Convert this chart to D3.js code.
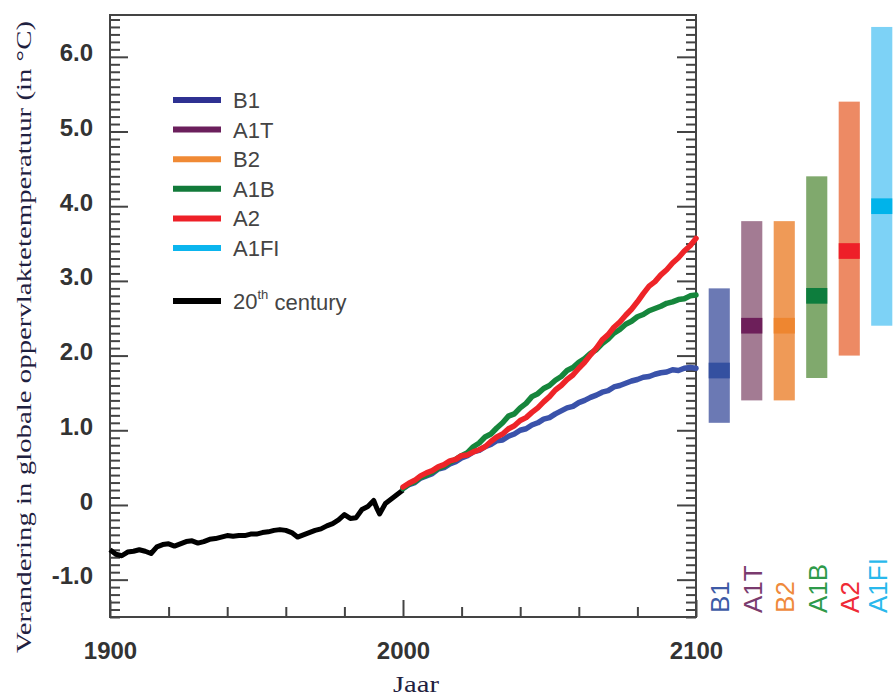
<!DOCTYPE html>
<html><head><meta charset="utf-8">
<script src="https://cdn.jsdelivr.net/npm/d3@7"></script>
<style>html,body{margin:0;padding:0;background:#fff;} svg{display:block;}</style>
</head><body>
<svg id="chart" width="893" height="700"></svg>
<script>
// ---------- DATA ----------
const histYears = [1900,1902,1904,1906,1908,1910,1912,1914,1916,1918,1920,1922,1924,1926,1928,1930,1932,1934,1936,1938,1940,1942,1944,1946,1948,1950,1952,1954,1956,1958,1960,1962,1964,1966,1968,1970,1972,1974,1976,1978,1980,1982,1984,1986,1988,1990,1991,1992,1994,1996,1998,2000];
const histValues = [-0.60,-0.66,-0.68,-0.63,-0.62,-0.60,-0.62,-0.65,-0.56,-0.53,-0.52,-0.55,-0.52,-0.49,-0.48,-0.51,-0.49,-0.46,-0.45,-0.43,-0.41,-0.42,-0.41,-0.41,-0.39,-0.39,-0.37,-0.36,-0.34,-0.33,-0.34,-0.37,-0.43,-0.40,-0.37,-0.34,-0.32,-0.28,-0.25,-0.20,-0.13,-0.18,-0.17,-0.06,-0.02,0.06,-0.04,-0.12,0.02,0.08,0.14,0.20];

const scenYears = [2000,2002,2004,2006,2008,2010,2012,2014,2016,2018,2020,2022,2024,2026,2028,2030,2032,2034,2036,2038,2040,2042,2044,2046,2048,2050,2052,2054,2056,2058,2060,2062,2064,2066,2068,2070,2072,2074,2076,2078,2080,2082,2084,2086,2088,2090,2092,2094,2096,2098,2100];
const b1Values  = [0.22,0.27,0.30,0.36,0.39,0.42,0.48,0.50,0.55,0.58,0.63,0.66,0.71,0.73,0.78,0.81,0.86,0.87,0.92,0.95,1.00,1.02,1.07,1.10,1.15,1.17,1.22,1.26,1.30,1.32,1.37,1.40,1.44,1.47,1.51,1.53,1.58,1.60,1.63,1.66,1.68,1.71,1.72,1.75,1.77,1.78,1.81,1.80,1.83,1.84,1.83];
const a1bValues = [0.22,0.28,0.31,0.37,0.40,0.44,0.49,0.52,0.57,0.61,0.66,0.70,0.78,0.83,0.91,0.95,1.03,1.10,1.19,1.22,1.30,1.36,1.45,1.49,1.56,1.60,1.67,1.72,1.80,1.84,1.91,1.96,2.03,2.08,2.16,2.22,2.30,2.35,2.42,2.46,2.52,2.55,2.60,2.63,2.66,2.70,2.72,2.75,2.76,2.80,2.81];
const a2Values  = [0.24,0.29,0.33,0.39,0.43,0.46,0.51,0.54,0.59,0.61,0.66,0.67,0.71,0.74,0.78,0.85,0.91,0.95,1.02,1.06,1.13,1.17,1.24,1.30,1.38,1.45,1.54,1.60,1.68,1.74,1.83,1.91,2.01,2.10,2.21,2.28,2.38,2.45,2.54,2.62,2.72,2.83,2.93,2.99,3.08,3.15,3.24,3.31,3.40,3.47,3.57];

const scenarioNames = ["B1","A1T","B2","A1B","A2","A1FI"];
const bestEstimate  = [1.8,2.4,2.4,2.8,3.4,4.0];
const rangeLow      = [1.1,1.4,1.4,1.7,2.0,2.4];
const rangeHigh     = [2.9,3.8,3.8,4.4,5.4,6.4];

const xMajorTicks = [1900,2000,2100];
const xMinorTicks = [1920,1940,1960,1980,2020,2040,2060,2080];
const yMajorTicks = [-1,0,1,2,3,4,5,6];
const yTickLabels = ["-1.0","0","1.0","2.0","3.0","4.0","5.0","6.0"];
const legendLabels = ["B1","A1T","B2","A1B","A2","A1FI","20th century"];

// ---------- STYLE ----------
const legendColors = ["#2e3192","#6b1f5c","#f08a35","#127a3a","#ee2028","#0bb5ee","#000000"];
const barLight = ["#6b79b4","#a37b93","#ef9a57","#80a96d","#ed8a64","#7dd2f6"];
const barDark  = ["#3450a0","#6d1f5a","#ee8630","#0d7d3d","#ee1f28","#00b3ea"];
const labelColors = ["#3d5aa6","#7a3b6e","#ef8a3c","#2e9a4a","#ef2a36","#29b8ec"];

const svg = d3.select("#chart");
const L = 110, R = 696, T = 15, B = 617;
const x = d3.scaleLinear().domain([1900,2100]).range([L,R]);
const y = d3.scaleLinear().domain([-1.5,6.56]).range([B,T]);
const axisColor = "#444";

// frame
svg.append("rect").attr("x",L).attr("y",T).attr("width",R-L).attr("height",B-T)
  .attr("fill","none").attr("stroke",axisColor).attr("stroke-width",2);

const yMinor = d3.range(-15,66).map(d => d/10).filter(d => Math.abs(d - Math.round(d)) > 1e-6);

function styleAxis(g){
  g.select(".domain").remove();
  g.selectAll(".tick line").attr("stroke",axisColor).attr("stroke-width",2);
}
// left axis
svg.append("g").attr("transform",`translate(${L},0)`)
  .call(d3.axisLeft(y).tickValues(yMinor).tickSize(-10).tickFormat(""))
  .call(styleAxis);
svg.append("g").attr("transform",`translate(${L},0)`)
  .call(d3.axisLeft(y).tickValues(yMajorTicks).tickSizeInner(-18).tickSizeOuter(0).tickPadding(17)
        .tickFormat((d,i) => yTickLabels[i]))
  .call(styleAxis)
  .call(g => g.selectAll("text").attr("font-family","Liberation Sans, Arial, sans-serif")
        .attr("font-size",24).attr("font-weight","bold").attr("fill","#333").attr("dy","0.17em"));
// right axis
svg.append("g").attr("transform",`translate(${R},0)`)
  .call(d3.axisRight(y).tickValues(yMinor).tickSize(-10).tickFormat(""))
  .call(styleAxis);
svg.append("g").attr("transform",`translate(${R},0)`)
  .call(d3.axisRight(y).tickValues(yMajorTicks).tickSize(-19).tickFormat(""))
  .call(styleAxis);
// bottom axis
svg.append("g").attr("transform",`translate(0,${B})`)
  .call(d3.axisBottom(x).tickValues(xMinorTicks).tickSize(-10).tickFormat(""))
  .call(styleAxis);
svg.append("g").attr("transform",`translate(0,${B})`)
  .call(d3.axisBottom(x).tickValues(xMajorTicks).tickSizeInner(-17).tickSizeOuter(0).tickPadding(25)
        .tickFormat(d3.format("d")))
  .call(styleAxis)
  .call(g => g.selectAll("text").attr("font-family","Liberation Sans, Arial, sans-serif")
        .attr("font-size",24).attr("font-weight","bold").attr("fill","#333"));

// lines
const line = d3.line().x(d => x(d[0])).y(d => y(d[1]));
const hist = histYears.map((yr,i) => [yr, histValues[i]]);
svg.append("path").datum(hist).attr("d",line).attr("fill","none")
  .attr("stroke","#000").attr("stroke-width",5).attr("stroke-linejoin","round");
const scen = [
  {vals:b1Values, color:"#3a52aa"},
  {vals:a1bValues, color:"#16863c"},
  {vals:a2Values, color:"#ee2428"}
];
scen.forEach(s => {
  svg.append("path").datum(scenYears.map((yr,i)=>[yr,s.vals[i]])).attr("d",line)
    .attr("fill","none").attr("stroke",s.color).attr("stroke-width",5.5)
    .attr("stroke-linejoin","round").attr("stroke-linecap","round");
});

// legend
const lg = svg.append("g");
legendLabels.forEach((lab,i) => {
  const ly = i < 6 ? 100 + i*29.6 : 301;
  lg.append("line").attr("x1",173).attr("x2",221).attr("y1",ly).attr("y2",ly)
    .attr("stroke",legendColors[i]).attr("stroke-width",6);
  const t = lg.append("text").attr("x",233).attr("y",ly).attr("dy","0.36em")
    .attr("font-family","Liberation Sans, Arial, sans-serif").attr("font-size",22).attr("fill","#444");
  if (lab === "20th century") {
    t.append("tspan").text("20");
    t.append("tspan").text("th").attr("font-size",13).attr("dy","-0.75em");
    t.append("tspan").text(" century").attr("dy","0.5em");
  } else t.text(lab);
});

// range bars
const xb = d3.scaleBand().domain(scenarioNames).range([703,898]).paddingInner(0.35).paddingOuter(0.175);
const bars = svg.append("g");
scenarioNames.forEach((n,i) => {
  bars.append("rect").attr("x",xb(n)).attr("width",xb.bandwidth())
    .attr("y",y(rangeHigh[i])).attr("height",y(rangeLow[i]) - y(rangeHigh[i])).attr("fill",barLight[i]);
  bars.append("rect").attr("x",xb(n)).attr("width",xb.bandwidth())
    .attr("y",y(bestEstimate[i]+0.105)).attr("height",y(bestEstimate[i]-0.105) - y(bestEstimate[i]+0.105)).attr("fill",barDark[i]);
  const cx = xb(n) + xb.bandwidth()/2;
  const off = i === scenarioNames.length - 1 ? 5 : 10;
  bars.append("text").attr("transform",`translate(${cx+off},613) rotate(-90)`)
    .attr("font-family","Liberation Sans, Arial, sans-serif").attr("font-size",26)
    .attr("fill",labelColors[i]).text(n);
});

// axis titles
svg.append("text").attr("transform","translate(31,337) rotate(-90)").attr("text-anchor","middle")
  .attr("font-family","Liberation Serif, DejaVu Serif, serif").attr("font-size",22).attr("fill","#1f2140")
  .attr("textLength",632).attr("lengthAdjust","spacingAndGlyphs")
  .text("Verandering in globale oppervlaktetemperatuur (in °C)");
svg.append("text").attr("x",416).attr("y",692).attr("text-anchor","middle")
  .attr("font-family","Liberation Serif, DejaVu Serif, serif").attr("font-size",23).attr("fill","#1f2140")
  .attr("textLength",46).attr("lengthAdjust","spacingAndGlyphs")
  .text("Jaar");
</script>
</body></html>
